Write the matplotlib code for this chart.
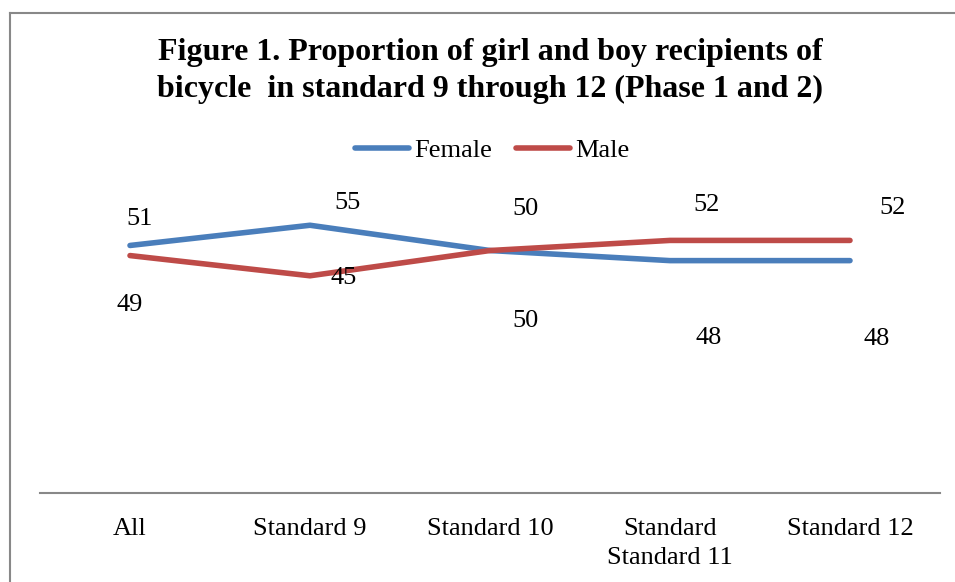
import matplotlib
matplotlib.use("Agg")
import matplotlib.pyplot as plt
from matplotlib.lines import Line2D

categories = ["All", "Standard 9", "Standard 10", "Standard\nStandard 11", "Standard 12"]
female = [51, 55, 50, 48, 48]
male = [49, 45, 50, 52, 52]

# label offsets in pixels (Excel placed them oddly)
female_off = [(10, 26), (37, 22), (35, 42), (39, -77), (27, -78)]
male_off = [(0, -49), (34, -2), (35, -70), (37, 35), (43, 32)]

BLUE = "#4A7EBB"
RED = "#BE4B48"
W, H = 955, 582
FS = 19

plt.rcParams["font.family"] = ["Liberation Serif", "DejaVu Serif"]

fig = plt.figure(figsize=(W / 100, H / 100), dpi=100)
ax = fig.add_axes([40 / W, 1 - 493 / H, 900 / W, 293 / H])

x = range(len(categories))
ax.plot(x, female, color=BLUE, lw=4, solid_capstyle="round", solid_joinstyle="round", label="Female")
ax.plot(x, male, color=RED, lw=4, solid_capstyle="round", solid_joinstyle="round", label="Male")

for i, v in enumerate(female):
    ax.annotate(str(v), (i, v), xytext=female_off[i], textcoords="offset pixels",
                ha="center", va="center", fontsize=FS, annotation_clip=False)
for i, v in enumerate(male):
    ax.annotate(str(v), (i, v), xytext=male_off[i], textcoords="offset pixels",
                ha="center", va="center", fontsize=FS, annotation_clip=False)

ax.set_xlim(-0.5, 4.5)
ax.set_ylim(2, 60)
ax.set_xticks(list(x))
ax.set_xticklabels(categories, fontsize=FS, linespacing=1.4)
ax.tick_params(axis="x", length=0, pad=18)
ax.set_yticks([])
for s in ["top", "left", "right"]:
    ax.spines[s].set_visible(False)
ax.spines["bottom"].set_color("#888888")
ax.spines["bottom"].set_linewidth(1.5)
ax.patch.set_alpha(0)

fig.text(490 / W, 1 - 71 / H,
         "Figure 1. Proportion of girl and boy recipients of\nbicycle  in standard 9 through 12 (Phase 1 and 2)",
         ha="center", va="center", fontsize=23, fontweight="bold", linespacing=1.35)

leg = fig.legend(loc="center", bbox_to_anchor=(492 / W, 1 - 150 / H), ncol=2, frameon=False,
                 fontsize=FS, handlelength=2.05, handletextpad=0.2, columnspacing=0.9)

# outer chart border
fig.add_artist(Line2D([10 / W, 10 / W], [0, 1 - 13 / H], color="#888888", lw=1.5))
fig.add_artist(Line2D([10 / W, 1], [1 - 13 / H, 1 - 13 / H], color="#888888", lw=1.5))

fig.savefig("out.png", dpi=100)
